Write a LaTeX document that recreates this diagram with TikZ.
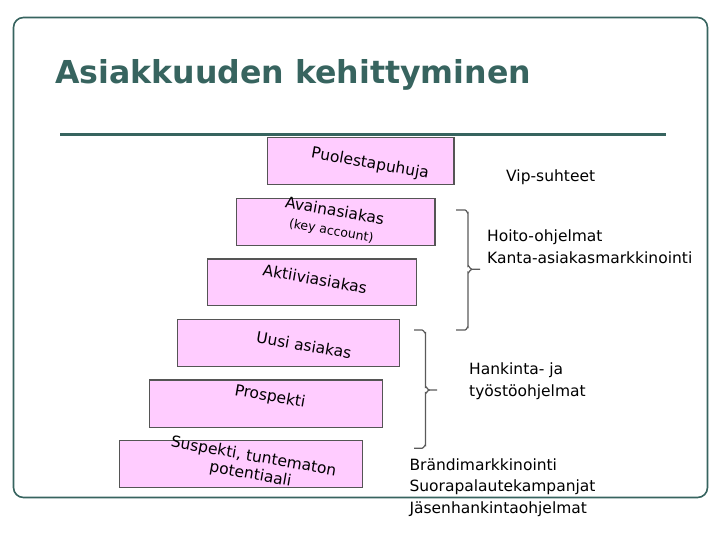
\documentclass[tikz,border=0pt]{standalone}
\usepackage{fontspec}
\setmainfont{DejaVu Sans}
\newfontfamily\titlefont{DejaVu Sans}
\definecolor{teal}{HTML}{37645F}
\definecolor{pinkfill}{HTML}{FFCCFF}
\definecolor{boxline}{HTML}{555555}
\definecolor{bracecol}{HTML}{5A5A5A}
\tikzset{
  stair/.style={draw=boxline, fill=pinkfill, line width=1.1pt},
  stairtext/.style={rotate=-10, align=center, inner sep=0pt, font=\fontsize{15.5}{18}\selectfont},
  sidetext/.style={anchor=base west, inner sep=0pt, font=\fontsize{15.5}{20}\selectfont},
  bracket/.style={draw=bracecol, line width=1.2pt},
}
\begin{document}
\begin{tikzpicture}[x=1pt, y=-1pt]
\useasboundingbox (0,0) rectangle (720,540);
% frame
\draw[teal, line width=1.6pt, rounded corners=10pt] (13.5,17.5) rectangle (707.5,497.5);
% title
\node[anchor=base west, inner sep=0pt, text=teal, font=\titlefont\bfseries\fontsize{31.6}{36}\selectfont] (title) at (55,83.3) {Asiakkuuden kehittyminen};
% rule
\draw[teal, line width=3.3pt] (60,134.3) -- (666,134.3);
% stairs
\path[stair] (267.7,137.3) rectangle (454,184.3);
\path[stair] (236.7,198.3) rectangle (435,245.7);
\path[stair] (207.7,259) rectangle (416.7,305.7);
\path[stair] (177.7,319.3) rectangle (399.3,366.7);
\path[stair] (149.3,380) rectangle (382.7,427.7);
\path[stair] (119.3,440.7) rectangle (362.7,487.7);
\node[stairtext] (s6) at (370,164) {Puolestapuhuja};
\node[stairtext] (s5) at (333,221) {Avainasiakas\\[1pt]{\fontsize{12.5}{14}\selectfont(key account)}};
\node[stairtext] (s4) at (315,279) {Aktiiviasiakas};
\node[stairtext] (s3) at (304,345) {Uusi asiakas};
\node[stairtext] (s2) at (270,397) {Prospekti};
\node[stairtext] (s1) at (252,466) {Suspekti, tuntematon\\potentiaali};
% side texts
\node[sidetext] (vip) at (506,181.7) {Vip-suhteet};
\node[sidetext] (hoito) at (487,241.7) {Hoito-ohjelmat};
\node[sidetext] (kanta) at (487,263.3) {Kanta-asiakasmarkkinointi};
\node[sidetext] (hank) at (469,374) {Hankinta- ja};
\node[sidetext] (tyos) at (469,396) {työstöohjelmat};
\node[sidetext] (brand) at (409.3,470) {Brändimarkkinointi};
\node[sidetext] (suora) at (409.3,491.7) {Suorapalautekampanjat};
\node[sidetext] (jasen) at (409.3,513.3) {Jäsenhankintaohjelmat};
% brackets
\draw[bracket] (456,210) -- (465,210) to[out=0,in=-90] (468,213) -- (468,266) to[out=90,in=180] (472,269.3) -- (480,269.3);
\draw[bracket] (472,269.3) to[out=180,in=-90] (468,272.6) -- (468,327) to[out=90,in=0] (465,330) -- (456,330);
\draw[bracket] (414,330) -- (422,330) to[out=0,in=-90] (425.5,333) -- (425.5,387) to[out=90,in=180] (429.5,390) -- (437,390);
\draw[bracket] (429.5,390) to[out=180,in=-90] (425.5,393) -- (425.5,445.3) to[out=90,in=0] (422,448.3) -- (414,448.3);
\end{tikzpicture}
\end{document}
